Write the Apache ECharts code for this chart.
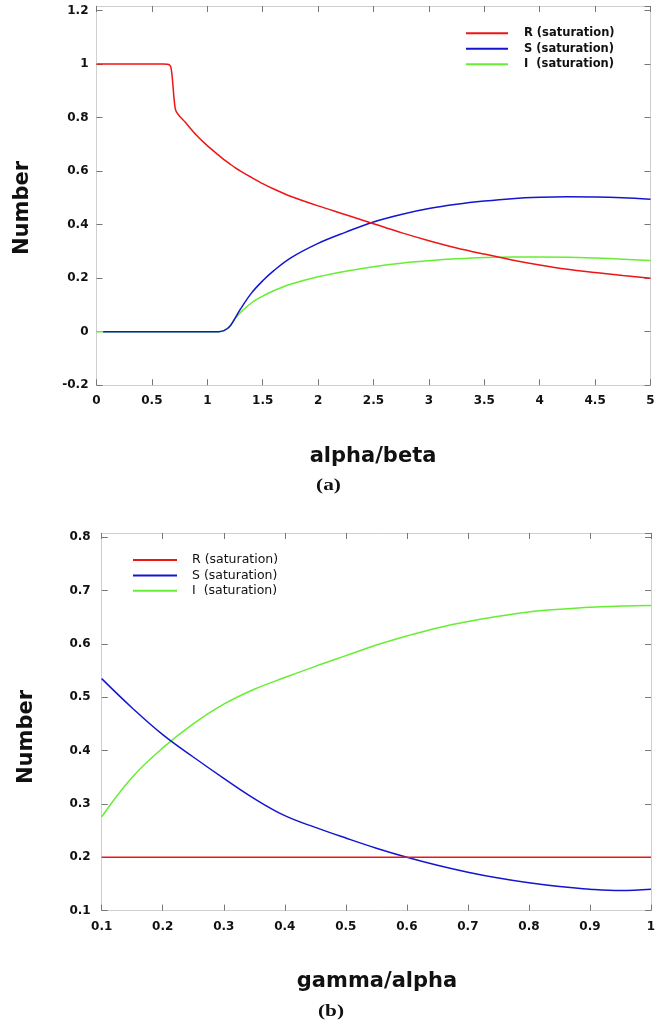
<!DOCTYPE html>
<html>
<head>
<meta charset="utf-8">
<script src="https://cdn.jsdelivr.net/npm/echarts@6/dist/echarts.min.js"></script>
<style>
html,body{margin:0;padding:0;background:#fff;}
#c{width:661px;height:1022px;}
</style>
</head>
<body>
<div id="c"></div>
<script>
// ---------- Data: panel (a) ----------
const A_X = [0, 0.06, 0.3, 0.6, 0.64, 0.66, 0.67, 0.68, 0.69, 0.70, 0.71, 0.72, 0.75, 0.8, 0.9, 1.0, 1.1, 1.15, 1.2, 1.25, 1.3, 1.4, 1.5, 1.6, 1.75, 2.0, 2.25, 2.5, 2.75, 3.0, 3.25, 3.5, 3.75, 4.0, 4.25, 4.5, 4.75, 5.0];
const A_R = [1, 1, 1, 1, 0.999, 0.996, 0.99, 0.965, 0.92, 0.87, 0.835, 0.822, 0.805, 0.783, 0.735, 0.695, 0.66, 0.643, 0.628, 0.613, 0.6, 0.576, 0.553, 0.533, 0.506, 0.47, 0.437, 0.403, 0.37, 0.34, 0.313, 0.29, 0.268, 0.249, 0.233, 0.221, 0.21, 0.20];
const A_S = [null, 0, 0, 0, 0, 0, 0, 0, 0, 0, 0, 0, 0, 0, 0, 0, 0, 0.004, 0.018, 0.05, 0.085, 0.145, 0.19, 0.228, 0.275, 0.33, 0.372, 0.41, 0.438, 0.46, 0.476, 0.488, 0.497, 0.502, 0.504, 0.503, 0.5, 0.495];
const A_I = [0, 0, 0, 0, 0, 0, 0, 0, 0, 0, 0, 0, 0, 0, 0, 0, 0, 0.004, 0.018, 0.048, 0.072, 0.108, 0.133, 0.153, 0.177, 0.205, 0.226, 0.243, 0.256, 0.265, 0.272, 0.277, 0.279, 0.279, 0.278, 0.275, 0.271, 0.266];

// ---------- Data: panel (b) ----------
const B_X = [0.1, 0.15, 0.2, 0.25, 0.3, 0.35, 0.4, 0.45, 0.5, 0.55, 0.6, 0.65, 0.7, 0.75, 0.8, 0.85, 0.9, 0.95, 1.0];
const B_R = [0.2, 0.2, 0.2, 0.2, 0.2, 0.2, 0.2, 0.2, 0.2, 0.2, 0.2, 0.2, 0.2, 0.2, 0.2, 0.2, 0.2, 0.2, 0.2];
const B_S = [0.535, 0.48, 0.43, 0.388, 0.348, 0.31, 0.278, 0.256, 0.236, 0.217, 0.2, 0.185, 0.172, 0.161, 0.152, 0.145, 0.14, 0.1375, 0.14];
const B_I = [0.276, 0.35, 0.405, 0.45, 0.487, 0.515, 0.537, 0.558, 0.578, 0.598, 0.615, 0.63, 0.642, 0.652, 0.66, 0.665, 0.669, 0.671, 0.672];

const NAMES = ['R (saturation)', 'S (saturation)', 'I  (saturation)'];
const COLORS = ['#ee1515', '#1515d0', '#66ee33'];
const TITLES = { aX: 'alpha/beta', bX: 'gamma/alpha', y: 'Number', aTag: '(a)', bTag: '(b)' };

// ---------- Build ----------
function pairs(xs, ys) { return xs.map((x, i) => [x, ys[i]]); }

const FRAME = '#cfcfcf';
const TICK = '#777';
const labelFont = { fontFamily: 'DejaVu Sans', fontWeight: 'bold', fontSize: 12, color: '#111' };

function xAxis(grid, pos, min, max, interval, labels) {
  return {
    type: 'value', gridIndex: grid, position: pos, min: min, max: max, interval: interval,
    axisLine: { show: true, onZero: false, lineStyle: { color: FRAME, width: 1 } },
    axisTick: { show: true, inside: true, length: 6, lineStyle: { color: TICK, width: 1 } },
    axisLabel: labels ? Object.assign({ show: true, margin: 10 }, labelFont) : { show: false },
    splitLine: { show: false }
  };
}
function yAxis(grid, pos, min, max, interval, labels, margin) {
  return {
    type: 'value', gridIndex: grid, position: pos, min: min, max: max, interval: interval,
    axisLine: { show: true, onZero: false, lineStyle: { color: FRAME, width: 1 } },
    axisTick: { show: true, inside: true, length: 6, lineStyle: { color: TICK, width: 1 } },
    axisLabel: labels ? Object.assign({ show: true, margin: margin, showMaxLabel: false }, labelFont) : { show: false },
    splitLine: { show: false }
  };
}

function lineSeries(name, data, color, xi, yi, z, smooth) {
  return {
    type: 'line', name: name, data: data, xAxisIndex: xi, yAxisIndex: yi,
    symbol: 'none', smooth: smooth, z: z,
    lineStyle: { color: color, width: 1.5 }, itemStyle: { color: color },
    animation: false
  };
}

const option = {
  backgroundColor: '#fff',
  animation: false,
  grid: [
    { left: 96.5, width: 554, top: 6, height: 379.2, show: false },
    { left: 101.7, width: 549.3, top: 533, height: 377.6, show: false }
  ],
  xAxis: [
    xAxis(0, 'bottom', 0, 5, 0.5, true),
    xAxis(0, 'top', 0, 5, 0.5, false),
    xAxis(1, 'bottom', 0.1, 1, 0.1, true),
    xAxis(1, 'top', 0.1, 1, 0.1, false)
  ],
  yAxis: [
    yAxis(0, 'left', -0.2, 1.2168, 0.2, true, 8),
    yAxis(0, 'right', -0.2, 1.2168, 0.2, false),
    yAxis(1, 'left', 0.1, 0.808, 0.1, true, 11),
    yAxis(1, 'right', 0.1, 0.808, 0.1, false)
  ],
  legend: [
    {
      left: 466, top: 25.5, orient: 'vertical', padding: 0, itemGap: 0,
      itemWidth: 42, itemHeight: 2, icon: 'rect', selectedMode: false,
      data: NAMES,
      textStyle: { fontFamily: 'DejaVu Sans', fontWeight: 'bold', fontSize: 11.5, color: '#111', lineHeight: 15.5, padding: [0, 0, 0, 11] }
    },
    {
      left: 133, top: 552.3, orient: 'vertical', padding: 0, itemGap: 0,
      itemWidth: 44, itemHeight: 2, icon: 'rect', selectedMode: false,
      data: NAMES,
      textStyle: { fontFamily: 'DejaVu Sans', fontWeight: 'normal', fontSize: 12.5, color: '#111', lineHeight: 15.4, padding: [0, 0, 0, 10] }
    }
  ],
  series: [
    lineSeries(NAMES[0], pairs(A_X, A_R), COLORS[0], 0, 0, 4, 0.25),
    lineSeries(NAMES[1], pairs(A_X, A_S), COLORS[1], 0, 0, 3, 0.35),
    lineSeries(NAMES[2], pairs(A_X, A_I), COLORS[2], 0, 0, 2, 0.35),
    lineSeries(NAMES[0], pairs(B_X, B_R), COLORS[0], 2, 2, 4, false),
    lineSeries(NAMES[1], pairs(B_X, B_S), COLORS[1], 2, 2, 3, 0.4),
    lineSeries(NAMES[2], pairs(B_X, B_I), COLORS[2], 2, 2, 2, 0.4)
  ],
  graphic: [
    { type: 'text', x: 23, y: 208, rotation: Math.PI / 2,
      style: { text: TITLES.y, x: 0, y: 0, align: 'center', verticalAlign: 'middle', font: 'bold 21px "DejaVu Sans"', fill: '#111' } },
    { type: 'text', x: 27, y: 737, rotation: Math.PI / 2,
      style: { text: TITLES.y, x: 0, y: 0, align: 'center', verticalAlign: 'middle', font: 'bold 21px "DejaVu Sans"', fill: '#111' } },
    { type: 'text', x: 373, y: 457,
      style: { text: TITLES.aX, x: 0, y: 0, align: 'center', verticalAlign: 'middle', font: 'bold 21px "DejaVu Sans"', fill: '#111' } },
    { type: 'text', x: 377, y: 982,
      style: { text: TITLES.bX, x: 0, y: 0, align: 'center', verticalAlign: 'middle', font: 'bold 21px "DejaVu Sans"', fill: '#111' } },
    { type: 'text', x: 328.5, y: 486, scaleX: 1.25,
      style: { text: TITLES.aTag, x: 0, y: 0, align: 'center', verticalAlign: 'middle', font: 'bold 17px "Liberation Serif"', fill: '#111' } },
    { type: 'text', x: 331, y: 1012, scaleX: 1.25,
      style: { text: TITLES.bTag, x: 0, y: 0, align: 'center', verticalAlign: 'middle', font: 'bold 17px "Liberation Serif"', fill: '#111' } }
  ]
};

const chart = echarts.init(document.getElementById('c'), null, { renderer: 'canvas' });
chart.setOption(option);
</script>
</body>
</html>
